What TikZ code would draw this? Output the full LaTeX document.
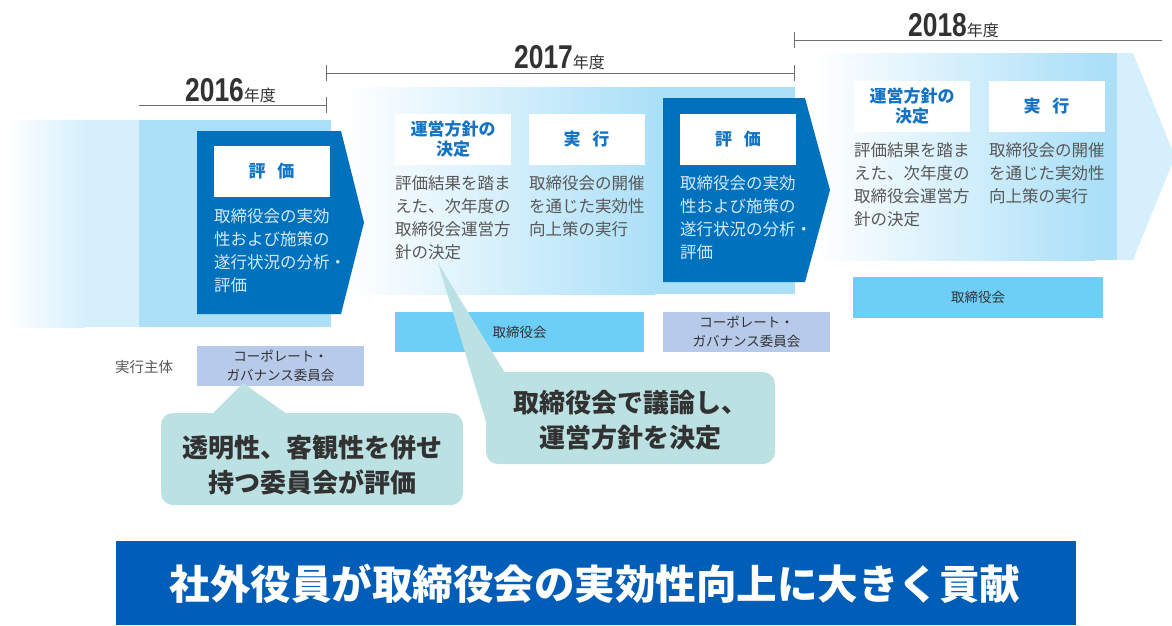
\documentclass[tikz,border=0pt]{standalone}
\usepackage{fontspec}
\setmainfont{Noto Sans CJK JP}
\newfontfamily\yearfont[FakeStretch=0.8]{Liberation Sans}
\definecolor{darkblue}{RGB}{0,113,188}
\definecolor{lb}{RGB}{172,224,248}
\definecolor{lbb}{RGB}{213,240,252}
\definecolor{headblue}{RGB}{20,115,195}
\definecolor{bodygray}{RGB}{89,87,87}
\definecolor{paleblue}{RGB}{212,233,247}
\definecolor{boardbox}{RGB}{109,207,246}
\definecolor{cgbox}{RGB}{184,202,234}
\definecolor{callout}{RGB}{188,225,227}
\definecolor{banner}{RGB}{0,94,184}
\definecolor{linegray}{RGB}{110,110,110}
\definecolor{darktext}{RGB}{50,50,50}
\tikzset{
  yearline/.style={draw=linegray, line width=0.9pt},
  headbox/.style={fill=white, inner sep=0pt, minimum width=116pt, minimum height=51pt, align=center,
     text=headblue, font=\bfseries\fontsize{17}{20}\selectfont},
  bodytext/.style={anchor=north west, inner sep=0pt, align=left, text=bodygray, font=\fontsize{16.5}{23}\selectfont},
  arrowtext/.style={bodytext, text=paleblue},
  smallbox/.style={inner sep=0pt, align=center, text=darktext, font=\fontsize{13.5}{19}\selectfont},
  calloutshape/.style={fill=callout, rounded corners=12pt},
  callouttext/.style={align=center, text=darktext, inner sep=0pt, font=\bfseries\fontsize{26}{35}\selectfont},
  yeartext/.style={anchor=base west, inner sep=0pt, text=darktext},
}
\newcommand{\yr}[1]{{\yearfont\bfseries\fontsize{33}{33}\selectfont #1}{\fontsize{16}{16}\selectfont 年度}}
\begin{document}
\begin{tikzpicture}[x=1pt, y=-1pt]
\useasboundingbox (0,0) rectangle (1172,625);

% ---- year rulers
\draw[yearline] (139,105) -- (326,105);
\draw[yearline] (326,97) -- (326,113);
\draw[yearline] (326,73) -- (794,73);
\draw[yearline] (326,65) -- (326,81);
\draw[yearline] (794,65) -- (794,81);
\draw[yearline] (794,40) -- (1162,40);
\draw[yearline] (794,32) -- (794,48);
\node[yeartext] (y2016) at (185,101) {\yr{2016}};
\node[yeartext] (y2017) at (514,68) {\yr{2017}};
\node[yeartext] (y2018) at (908,36) {\yr{2018}};

% ---- bands
\fill[left color=white, right color=lbb] (7,120) rectangle (85,327);
\fill[lbb] (85,120) rectangle (139,327);
\fill[lb] (139,120) rectangle (331,327);
\fill[left color=white, right color=lb] (345,87) rectangle (655,294);
\fill[lb] (655,87) rectangle (795,294);
\fill[left color=white, right color=lb] (815,53) rectangle (1095,260);
\fill[lb] (1095,53) rectangle (1117,260);
\fill[lbb] (1117,53) -- (1133,53) -- (1175,156.5) -- (1133,260) -- (1117,260) -- cycle;

% ---- dark arrows
\fill[darkblue] (197,131) -- (341,131) -- (364,222.5) -- (341,314) -- (197,314) -- cycle;
\fill[darkblue] (663,98) -- (805,98) -- (830,190) -- (805,282) -- (663,282) -- cycle;

% ---- 2016
\node[headbox] (e16) at (271.5,171.5) {評\hspace{0.7em}価};
\node[arrowtext] (e16t) at (214,208.5) {取締役会の実効\\性および施策の\\遂行状況の分析・\\評価};

% ---- 2017
\node[headbox] (p17) at (453,139.5) {運営方針の\\決定};
\node[headbox] (x17) at (586.5,139.5) {実\hspace{0.7em}行};
\node[headbox] (e17) at (738,139.5) {評\hspace{0.7em}価};
\node[bodytext] (p17t) at (395,175.5) {評価結果を踏ま\\えた、次年度の\\取締役会運営方\\針の決定};
\node[bodytext] (x17t) at (529,175.5) {取締役会の開催\\を通じた実効性\\向上策の実行};
\node[arrowtext] (e17t) at (680,175.5) {取締役会の実効\\性および施策の\\遂行状況の分析・\\評価};

% ---- 2018
\node[headbox] (p18) at (912,106) {運営方針の\\決定};
\node[headbox] (x18) at (1046.5,106) {実\hspace{0.7em}行};
\node[bodytext] (p18t) at (854,142.5) {評価結果を踏ま\\えた、次年度の\\取締役会運営方\\針の決定};
\node[bodytext] (x18t) at (989,142.5) {取締役会の開催\\を通じた実効性\\向上策の実行};

% ---- actors
\node[anchor=west, inner sep=0pt, text=bodygray, font=\fontsize{14.5}{18}\selectfont] (actor) at (115,367) {実行主体};
\node[smallbox, fill=cgbox, minimum width=167pt, minimum height=40pt] (cg16) at (280.5,366) {コーポレート・\\ガバナンス委員会};
\node[smallbox, fill=boardbox, minimum width=249pt, minimum height=40pt] (b17) at (519.5,332) {取締役会};
\node[smallbox, fill=cgbox, minimum width=167pt, minimum height=40pt] (cg17) at (746.5,332) {コーポレート・\\ガバナンス委員会};
\node[smallbox, fill=boardbox, minimum width=250pt, minimum height=41pt] (b18) at (978,297.5) {取締役会};

% ---- callouts
\fill[calloutshape] (161,413) rectangle (463,505);
\fill[callout] (212,414) -- (243,383) -- (287,414) -- cycle;
\node[callouttext] (c1) at (312,465) {透明性、客観性を併せ\\持つ委員会が評価};
\fill[calloutshape] (486,372) rectangle (775,464);
\fill[callout] (438,263) -- (505,373) -- (487,425) -- cycle;
\node[callouttext] (c2) at (630,420) {取締役会で議論し、\\運営方針を決定};

% ---- banner
\fill[banner] (116,541) rectangle (1076,625);
\node[text=white, inner sep=0pt, font=\bfseries\fontsize{40.5}{40.5}\selectfont] (ban) at (595,584) {社外役員が取締役会の実効性向上に大きく貢献};
\end{tikzpicture}
\end{document}
